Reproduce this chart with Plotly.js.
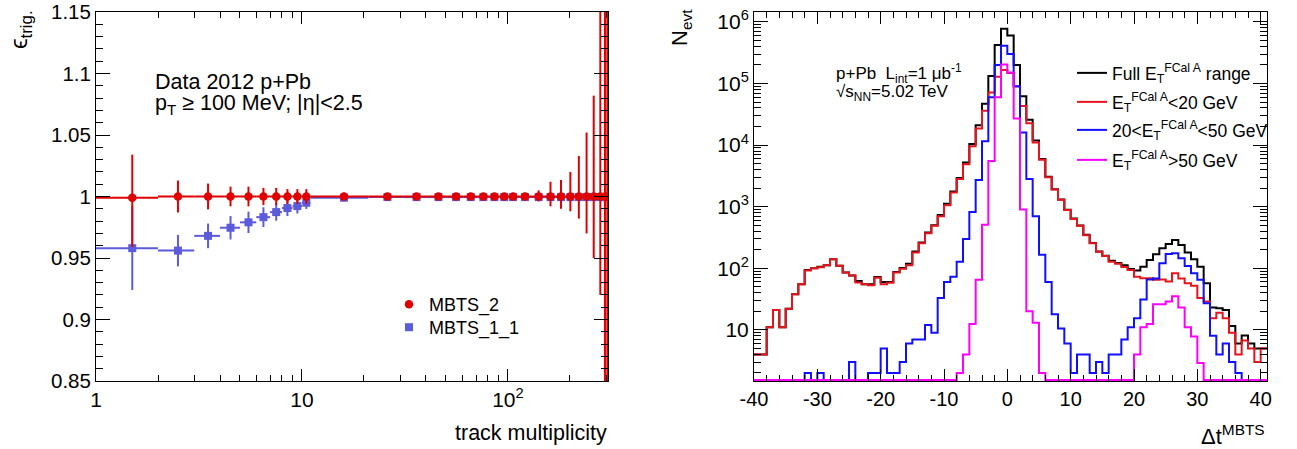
<!DOCTYPE html>
<html>
<head>
<meta charset="utf-8">
<script src="https://cdn.plot.ly/plotly-3.0.1.min.js"></script>
<style>html,body{margin:0;padding:0;background:#fff;}#chart{width:1297px;height:449px;}</style>
</head>
<body>
<div id="chart"></div>
<script>
// ---------- Left panel: trigger efficiency vs track multiplicity ----------
const trkMult      = [1.5, 2.5, 3.5, 4.5, 5.5, 6.5, 7.5, 8.5, 9.5, 10.5, 16, 26, 36, 46, 56, 66, 76, 86, 96, 106, 121, 141, 161, 181, 201, 221, 241, 261, 281, 296, 304];
const trkHalfWidth = [0.5, 0.5, 0.5, 0.5, 0.5, 0.5, 0.5, 0.5, 0.5, 0.5, 5, 5, 5, 5, 5, 5, 5, 5, 5, 5, 10, 10, 10, 10, 10, 10, 10, 10, 10, 5, 3];
const effMBTS2     = [0.999, 1.0, 1.0, 1.0, 1.0, 1.0, 1.0, 1.0, 1.0, 1.0, 1.0, 1.0, 1.0, 1.0, 1.0, 1.0, 1.0, 1.0, 1.0, 1.0, 1.0, 1.0, 1.0, 1.0, 1.0, 1.0, 1.0, 1.0, 1.0, 1.0, 1.0];
const errUpMBTS2   = [0.035, 0.013, 0.0105, 0.008, 0.008, 0.007, 0.007, 0.006, 0.006, 0.006, 0.003, 0.002, 0.002, 0.002, 0.002, 0.002, 0.002, 0.002, 0.002, 0.003, 0.003, 0.005, 0.012, 0.0135, 0.02, 0.033, 0.052, 0.082, 0.15, 0.2, 0.2];
const errDnMBTS2   = [0.04, 0.013, 0.0105, 0.008, 0.008, 0.007, 0.007, 0.006, 0.006, 0.006, 0.003, 0.002, 0.002, 0.002, 0.002, 0.002, 0.002, 0.002, 0.002, 0.003, 0.003, 0.004, 0.008, 0.01, 0.012, 0.018, 0.03, 0.05, 0.08, 0.2, 0.2];
const effMBTS11    = [0.958, 0.956, 0.968, 0.9746, 0.979, 0.9832, 0.9873, 0.9906, 0.9922, 0.9949, 0.999, 0.9995, 0.9995, 0.9995, 0.9995, 0.9995, 0.9995, 0.9995, 0.9995, 0.9995, 0.9995, 0.9995, 0.9995, 0.9995, 0.9995, 0.9995, 0.9995, 0.9995, 0.9995, 0.9995, 0.9995];
const errMBTS11    = [0.034, 0.0128, 0.01, 0.0095, 0.0087, 0.008, 0.007, 0.0065, 0.006, 0.005, 0.002, 0.002, 0.002, 0.002, 0.002, 0.002, 0.002, 0.002, 0.002, 0.002, 0.002, 0.002, 0.002, 0.002, 0.002, 0.002, 0.002, 0.002, 0.002, 0.002, 0.002];

// ---------- Right panel: Delta t MBTS histograms (bins of width 1 from -40) ----------
const dtLowEdge = -40;
const dtBinWidth = 1;
const nFull = [4, 4, 11, 21, 11, 22, 38, 55, 94, 100,
  106, 112, 140, 110, 85, 76, 62, 55, 55, 72,
  60, 60, 87, 101, 118, 187, 262, 382, 499, 733,
  1110, 1770, 2930, 5200, 10400, 21000, 47000, 132000, 420000, 770000,
  600000, 200000, 62000, 25800, 11900, 5960, 3060, 1920, 1310, 890,
  640, 495, 350, 258, 188, 160, 132, 122, 112, 97,
  92, 106, 136, 169, 211, 248, 288, 239, 180, 140,
  106, 57, 23, 22.4, 21, 11.6, 6, 8.1, 6, 5, 5];
const nLow = [4, 4, 11, 21, 11, 22, 38, 55, 92, 100,
  104, 112, 140, 110, 85, 76, 59, 55, 53, 70,
  55, 58, 85, 98, 112, 180, 255, 370, 490, 700,
  1050, 1700, 2800, 4900, 9600, 18500, 36000, 71000, 128000, 165000,
  148000, 89000, 43000, 22500, 11000, 5800, 3000, 1900, 1300, 880,
  630, 490, 345, 255, 185, 158, 128, 118, 105, 94,
  73, 69, 69, 65, 66, 61, 83, 68, 57, 52,
  33, 29, 15.5, 19, 15.5, 9, 4, 6.7, 5, 3, 5];
const nMid = [0, 0, 0, 0, 0, 0, 0, 0, 2, 0,
  2, 0, 0, 0, 0, 3, 0, 0, 2, 2,
  5, 2, 2, 3, 6, 7, 7, 12, 9, 33,
  60, 73, 128, 300, 820, 2700, 11500, 60000, 200000, 410000,
  300000, 90000, 16000, 2800, 700, 165, 60, 18, 10.5, 6,
  2, 4, 4, 2, 3, 2, 4, 4, 7, 11,
  15.5, 31, 66, 68, 121, 170, 175, 145, 109, 83,
  65, 27, 8, 4, 6, 3, 2, 0, 0, 0, 0];
const nHigh = [0, 0, 0, 0, 0, 0, 0, 0, 0, 0,
  0, 0, 0, 0, 0, 0, 0, 0, 0, 0,
  0, 0, 0, 0, 0, 0, 0, 0, 0, 0,
  0, 0, 2, 4, 12.5, 65, 510, 5500, 60000, 204000,
  150000, 27000, 900, 20, 13, 2, 0, 0, 0, 0,
  0, 0, 0, 0, 0, 0, 0, 0, 0, 0,
  4, 11, 12.5, 26, 26, 29, 35, 23, 11, 7.8,
  2.9, 0, 0, 0, 0, 0, 0, 0, 0, 0, 0];

const yLogMin = 0.17, yLogMax = 6.16;
const zeroFloor = Math.pow(10, yLogMin + 0.018); // empty bins drawn on the frame, ROOT style

function histXY(counts) {
  const x = [], y = [];
  counts.forEach((c, i) => { x.push(dtLowEdge + i * dtBinWidth); y.push(c > 0 ? c : zeroFloor); });
  x.push(dtLowEdge + counts.length * dtBinWidth);
  y.push(y[y.length - 1]);
  return {x, y};
}

const W = 1297, H = 449, T = 12, B = 68, PH = H - T - B;
const px = v => v / W;
const py = v => (H - B - v) / PH;

const FONT = 'Liberation Sans, Arial, Helvetica, sans-serif';
const RED = '#e00000', BLUE = '#5b5bdc';

const traces = [
  {x: trkMult, y: effMBTS11, type: 'scatter', mode: 'markers', name: 'MBTS_1_1', xaxis: 'x', yaxis: 'y',
   marker: {symbol: 'square', size: 8, color: BLUE},
   error_x: {type: 'data', array: trkHalfWidth, thickness: 2, width: 0, color: BLUE},
   error_y: {type: 'data', array: errMBTS11, thickness: 2, width: 0, color: BLUE}, legend: 'legend2'},
  {x: trkMult, y: effMBTS2, type: 'scatter', mode: 'markers', name: 'MBTS_2', xaxis: 'x', yaxis: 'y',
   marker: {symbol: 'circle', size: 8.5, color: RED},
   error_x: {type: 'data', array: trkHalfWidth, thickness: 2, width: 0, color: RED},
   error_y: {type: 'data', symmetric: false, array: errUpMBTS2, arrayminus: errDnMBTS2, thickness: 2, width: 0, color: RED},
   legend: 'legend'}
];

const hists = [
  {d: nFull, name: 'Full E<sub>T</sub><sup>FCal A</sup> range', color: '#000000'},
  {d: nLow, name: 'E<sub>T</sub><sup>FCal A</sup>&lt;20 GeV', color: '#e8141b'},
  {d: nMid, name: '20&lt;E<sub>T</sub><sup>FCal A</sup>&lt;50 GeV', color: '#1010ff'},
  {d: nHigh, name: 'E<sub>T</sub><sup>FCal A</sup>&gt;50 GeV', color: '#ff00ff'}
];
hists.forEach((h, i) => {
  const xy = histXY(h.d);
  traces.push({x: xy.x, y: xy.y, type: 'scatter', mode: 'lines', name: h.name, xaxis: 'x2', yaxis: 'y2',
    line: {shape: 'hv', color: h.color, width: 2}, legend: 'legend' + (i + 3)});
});

const logMinorY = [];
for (let e = 0; e < 7; e++) for (let k = 2; k <= 9; k++) logMinorY.push(k * Math.pow(10, e));
const logMinorX = [2, 3, 4, 5, 6, 7, 8, 9, 20, 30, 40, 50, 60, 70, 80, 90, 200, 300];

const axCommon = {showgrid: false, zeroline: false, showline: true, linecolor: '#000', linewidth: 1,
  ticks: 'inside', mirror: 'allticks', tickcolor: '#000', tickwidth: 1, color: '#000'};

function legendAt(xPix, topPix, size) {
  return {x: px(xPix), y: py(topPix), xanchor: 'left', yanchor: 'top', bgcolor: 'rgba(0,0,0,0)',
    font: {size: size, family: FONT}, itemwidth: 30};
}

const layout = {
  width: W, height: H,
  margin: {l: 0, r: 0, t: T, b: B},
  paper_bgcolor: '#fff', plot_bgcolor: '#fff',
  font: {family: FONT, color: '#000'},
  xaxis: Object.assign({}, axCommon, {domain: [px(96), px(608)], anchor: 'y', type: 'log', range: [0, 2.486],
    tickmode: 'array', tickvals: [1, 10, 100], ticktext: ['1', '10', '10<sup>2</sup>'], ticklen: 12,
    tickfont: {size: 21, family: FONT},
    minor: {tickmode: 'array', tickvals: logMinorX, ticklen: 6, tickcolor: '#000', ticks: 'inside'}}),
  yaxis: Object.assign({}, axCommon, {domain: [0, 1], anchor: 'x', range: [0.85, 1.15],
    tickmode: 'array', tickvals: [0.85, 0.9, 0.95, 1, 1.05, 1.1, 1.15], ticktext: ['0.85', '0.9', '0.95', '1', '1.05', '1.1', '1.15'],
    ticklen: 14, tickfont: {size: 20.5, family: FONT},
    minor: {dtick: 0.01, tick0: 0.85, ticklen: 7, tickcolor: '#000', ticks: 'inside'}}),
  xaxis2: Object.assign({}, axCommon, {domain: [px(754), px(1267)], anchor: 'y2', range: [-40, 41],
    tickmode: 'array', tickvals: [-40, -30, -20, -10, 0, 10, 20, 30, 40],
    ticktext: ['-40', '-30', '-20', '-10', '0', '10', '20', '30', '40'], ticklen: 12,
    tickfont: {size: 20, family: FONT},
    minor: {dtick: 2, tick0: 0, ticklen: 6, tickcolor: '#000', ticks: 'inside'}}),
  yaxis2: Object.assign({}, axCommon, {domain: [0, 1], anchor: 'x2', type: 'log', range: [yLogMin, yLogMax],
    tickmode: 'array', tickvals: [10, 100, 1e3, 1e4, 1e5, 1e6],
    ticktext: ['10', '10<sup>2</sup>', '10<sup>3</sup>', '10<sup>4</sup>', '10<sup>5</sup>', '10<sup>6</sup>'],
    ticklen: 14, tickfont: {size: 21, family: FONT},
    minor: {tickmode: 'array', tickvals: logMinorY, ticklen: 7, tickcolor: '#000', ticks: 'inside'}}),
  showlegend: true,
  legend:  legendAt(389, 286, 18),
  legend2: legendAt(389, 309, 18),
  legend3: legendAt(1072, 55, 17.5),
  legend4: legendAt(1072, 84, 17.5),
  legend5: legendAt(1072, 112, 17.5),
  legend6: legendAt(1072, 142, 17.5),
  annotations: [
    {text: 'ϵ<sub>trig.</sub>', textangle: -90, xref: 'paper', yref: 'paper', x: px(20), y: py(30),
      xanchor: 'center', yanchor: 'middle', showarrow: false, font: {size: 24, family: FONT}},
    {text: 'track multiplicity', xref: 'paper', yref: 'paper', x: px(609), y: py(433),
      xanchor: 'right', yanchor: 'middle', showarrow: false, font: {size: 21.5, family: FONT}},
    {text: 'Data 2012 p+Pb', xref: 'paper', yref: 'paper', x: px(153), y: py(82),
      xanchor: 'left', yanchor: 'middle', showarrow: false, font: {size: 21.5, family: FONT}},
    {text: 'p<sub>T</sub> ≥ 100 MeV; |η|&lt;2.5', xref: 'paper', yref: 'paper', x: px(153), y: py(104),
      xanchor: 'left', yanchor: 'middle', showarrow: false, font: {size: 21.5, family: FONT}},
    {text: 'N<sub>evt</sub>', textangle: -90, xref: 'paper', yref: 'paper', x: px(681), y: py(28),
      xanchor: 'center', yanchor: 'middle', showarrow: false, font: {size: 22, family: FONT}},
    {text: 'Δt<sup>MBTS</sup>', xref: 'paper', yref: 'paper', x: px(1267), y: py(435),
      xanchor: 'right', yanchor: 'middle', showarrow: false, font: {size: 22, family: FONT}},
    {text: 'p+Pb  L<sub>int</sub>=1 μb<sup>-1</sup>', xref: 'paper', yref: 'paper', x: px(834), y: py(73),
      xanchor: 'left', yanchor: 'middle', showarrow: false, font: {size: 17, family: FONT}},
    {text: '√s<sub>NN</sub>=5.02 TeV', xref: 'paper', yref: 'paper', x: px(834), y: py(93),
      xanchor: 'left', yanchor: 'middle', showarrow: false, font: {size: 17, family: FONT}}
  ]
};

Plotly.newPlot('chart', traces, layout, {staticPlot: true, displayModeBar: false});
</script>
</body>
</html>
